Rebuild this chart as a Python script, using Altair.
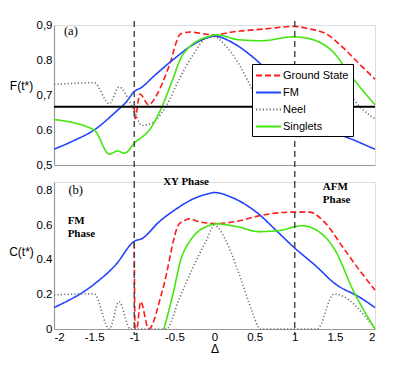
import altair as alt
import pandas as pd

# ---------------- data ----------------
series_names = ["Ground State", "FM", "Neel", "Singlets"]
series_colors = ["#ff1a1a", "#2244ff", "#707070", "#44e610"]
series_dashes = [[6, 3], [1, 0], [1.2, 2.2], [1, 0]]

# panel (a): F(t*)
gs_top_x = [-1.0, -0.99, -0.93, -0.82, -0.72, -0.57, -0.42, -0.3, -0.2, 0.0, 0.22, 0.64, 1.0, 1.18, 1.39, 1.59, 1.8, 2.0]
gs_top_y = [0.665, 0.632, 0.703, 0.672, 0.70, 0.78, 0.875, 0.88, 0.877, 0.872, 0.88, 0.889, 0.896, 0.889, 0.875, 0.838, 0.79, 0.745]

fm_top_x = [-2.0, -1.75, -1.5, -1.23, -1.1, -1.0, -0.92, -0.75, -0.5, -0.25, 0.0, 0.25, 0.5, 0.75, 1.0, 1.25, 1.5, 1.75, 2.0]
fm_top_y = [0.545, 0.57, 0.6, 0.652, 0.68, 0.71, 0.72, 0.755, 0.804, 0.846, 0.868, 0.846, 0.804, 0.75, 0.705, 0.645, 0.595, 0.57, 0.545]

neel_top_x = [-2.0, -1.5, -1.31, -1.19, -1.03, -0.9, -0.78, -0.6, -0.44, -0.28, -0.1, 0.0, 0.14, 0.3, 0.43, 0.55, 0.75, 0.97, 1.05, 1.2, 1.5, 1.7, 1.8, 2.0]
neel_top_y = [0.73, 0.735, 0.675, 0.723, 0.669, 0.613, 0.62, 0.669, 0.745, 0.81, 0.862, 0.866, 0.84, 0.79, 0.734, 0.68, 0.62, 0.585, 0.58, 0.64, 0.735, 0.697, 0.669, 0.632]

sing_top_x = [-2.0, -1.5, -1.31, -1.21, -1.12, -1.0, -0.79, -0.65, -0.52, -0.42, -0.3, -0.2, -0.09, 0.02, 0.3, 0.59, 0.97, 1.18, 1.34, 1.51, 1.64, 2.0]
sing_top_y = [0.63, 0.6, 0.531, 0.54, 0.534, 0.562, 0.607, 0.669, 0.745, 0.805, 0.84, 0.856, 0.866, 0.872, 0.858, 0.855, 0.866, 0.861, 0.847, 0.815, 0.773, 0.672]

# panel (b): C(t*)
gs_bot_x = [-1.0, -0.99, -0.97, -0.92, -0.82, -0.65, -0.44, -0.38, -0.32, -0.19, 0.02, 0.3, 0.55, 0.97, 1.18, 1.39, 1.59, 1.8, 2.0]
gs_bot_y = [0.5, 0.0, 0.0, 0.158, 0.0, 0.22, 0.608, 0.625, 0.637, 0.62, 0.61, 0.625, 0.654, 0.676, 0.676, 0.608, 0.479, 0.344, 0.225]

fm_bot_x = [-2.0, -1.5, -1.23, -1.0, -0.9, -0.69, -0.48, -0.28, -0.07, 0.0, 0.22, 0.55, 0.77, 1.0, 1.26, 1.51, 1.8, 2.0]
fm_bot_y = [0.124, 0.259, 0.372, 0.507, 0.524, 0.62, 0.693, 0.749, 0.783, 0.789, 0.76, 0.665, 0.569, 0.468, 0.366, 0.259, 0.186, 0.124]

neel_bot_x = [-2.0, -1.5, -1.31, -1.19, -1.05, -0.6, -0.44, -0.28, -0.1, 0.0, 0.14, 0.3, 0.47, 0.57, 1.28, 1.49, 2.0]
neel_bot_y = [0.197, 0.203, 0.0, 0.158, 0.0, 0.0, 0.175, 0.344, 0.513, 0.6, 0.513, 0.327, 0.1, 0.0, 0.0, 0.203, 0.0]

sing_bot_x = [-0.63, -0.52, -0.42, -0.3, -0.19, -0.07, 0.02, 0.3, 0.55, 0.8, 1.09, 1.3, 1.51, 1.72, 2.0]
sing_bot_y = [0.0, 0.197, 0.4, 0.513, 0.569, 0.597, 0.608, 0.59, 0.563, 0.569, 0.597, 0.563, 0.45, 0.231, 0.0]

# reference lines
phase_bounds = [-1.0, 1.0]
classical_limit = [2.0 / 3.0]

# axis ticks / labels
x_ticks = [-2, -1.5, -1, -0.5, 0, 0.5, 1, 1.5, 2]
x_tick_labels = ["-2", "-1.5", "-1", "-0.5", "0", "0.5", "1", "1.5", "2"]
top_y_ticks = [0.5, 0.6, 0.7, 0.8, 0.9]
top_y_labels = ["0,5", "0.6", "0,7", "0.8", "0,9"]
bot_y_ticks = [0, 0.2, 0.4, 0.6, 0.8]
bot_y_labels = ["0", "0.2", "0.4", "0.6", "0.8"]

# annotations
top_notes_text = ["(a)"]
top_notes_x = [-1.79]
top_notes_y = [0.883]
bot_notes_text = ["(b)"]
bot_notes_x = [-1.73]
bot_notes_y = [0.806]
phase_text = [["FM", "Phase"], ["XY Phase"], ["AFM", "Phase"]]
phase_x = [-1.83, -0.355, 1.35]
phase_y = [0.625, 0.85, 0.82]
phase_align = ["left", "center", "left"]


def long_df(pairs):
    rows = []
    for name, xs, ys in pairs:
        for i, (a, b) in enumerate(zip(xs, ys)):
            rows.append({"series": name, "x": a, "y": b, "i": i})
    return pd.DataFrame(rows)


top_df = long_df([
    ("Ground State", gs_top_x, gs_top_y),
    ("FM", fm_top_x, fm_top_y),
    ("Neel", neel_top_x, neel_top_y),
    ("Singlets", sing_top_x, sing_top_y),
])
bot_df = long_df([
    ("Ground State", gs_bot_x, gs_bot_y),
    ("FM", fm_bot_x, fm_bot_y),
    ("Neel", neel_bot_x, neel_bot_y),
    ("Singlets", sing_bot_x, sing_bot_y),
])


def label_expr(values, labels):
    parts = []
    for v, l in zip(values, labels):
        parts.append(f"abs(datum.value - ({v})) < 1e-6 ? '{l}'")
    return " : ".join(parts) + " : ''"


W = 321
H_TOP = 140
H_BOT = 147
GAP = 17
AXIS_GRAY = "#9a9a9a"

x_scale = alt.Scale(domain=[-2, 2], nice=False, zero=False)
y_top_scale = alt.Scale(domain=[0.5, 0.9], nice=False, zero=False)
y_bot_scale = alt.Scale(domain=[0, 0.85], nice=False, zero=False)

legend_kw = dict(
    orient="none", legendX=198, legendY=39, title=None,
    fillColor="white", strokeColor="black",
    padding=4, symbolType="M-2,0H2", symbolSize=156, symbolStrokeWidth=1.8,
    symbolOffset=5,
    labelFont="Liberation Sans", labelFontSize=11, labelColor="black",
    labelOffset=7, rowPadding=4,
)
color_enc = alt.Color(
    "series:N",
    scale=alt.Scale(domain=series_names, range=series_colors),
    legend=alt.Legend(**legend_kw),
)
dash_enc = alt.StrokeDash(
    "series:N",
    scale=alt.Scale(domain=series_names, range=series_dashes),
    legend=alt.Legend(**legend_kw),
)

axis_common = dict(
    labelFont="Liberation Sans", labelFontSize=11.5, labelColor="black", labelOverlap=False,
    titleFont="Liberation Sans", titleFontSize=12, titleColor="black", titleFontWeight="normal",
    domainColor=AXIS_GRAY, domainWidth=1.2, grid=False, ticks=False,
)
top_y_axis = alt.Axis(values=top_y_ticks, labelExpr=label_expr(top_y_ticks, top_y_labels),
                      title="F(t*)", titleAngle=0, titleX=-33, titleY=60,
                      titleAlign="center", titleBaseline="middle", **axis_common)
bot_y_axis = alt.Axis(values=bot_y_ticks, labelExpr=label_expr(bot_y_ticks, bot_y_labels),
                      title="C(t*)", titleAngle=0, titleX=-33, titleY=69,
                      titleAlign="center", titleBaseline="middle", **axis_common)
top_x_axis = alt.Axis(title=None, labels=False, **axis_common)
bot_x_axis = alt.Axis(values=x_ticks, labelExpr=label_expr(x_ticks, x_tick_labels),
                      title="Δ", titlePadding=1, labelPadding=2, **axis_common)

# ---------------- top panel ----------------
top_lines = alt.Chart(top_df).mark_line(strokeWidth=1.6, interpolate="monotone").encode(
    x=alt.X("x:Q", scale=x_scale, axis=top_x_axis),
    y=alt.Y("y:Q", scale=y_top_scale, axis=top_y_axis),
    color=color_enc,
    strokeDash=dash_enc,
    order="i:Q",
)

hline = alt.Chart(pd.DataFrame({"y": classical_limit})).mark_rule(color="black", strokeWidth=2).encode(
    y=alt.Y("y:Q", scale=y_top_scale, axis=top_y_axis)
)

vrules_top = alt.Chart(pd.DataFrame({"x": phase_bounds})).mark_rule(
    color="#444444", strokeWidth=1.4, strokeDash=[6, 4]
).encode(x=alt.X("x:Q", scale=x_scale, axis=top_x_axis), y=alt.value(-4), y2=alt.value(H_TOP + GAP))

top_txt = alt.Chart(pd.DataFrame({"t": top_notes_text, "x": top_notes_x, "y": top_notes_y})).mark_text(
    font="Liberation Serif", fontSize=12.5, color="black"
).encode(x=alt.X("x:Q", scale=x_scale, axis=top_x_axis),
         y=alt.Y("y:Q", scale=y_top_scale, axis=top_y_axis), text="t:N")

top = alt.layer(top_lines, hline, vrules_top, top_txt).properties(width=W, height=H_TOP)

# ---------------- bottom panel ----------------
bot_lines = alt.Chart(bot_df).mark_line(strokeWidth=1.6, interpolate="monotone").encode(
    x=alt.X("x:Q", scale=x_scale, axis=bot_x_axis),
    y=alt.Y("y:Q", scale=y_bot_scale, axis=bot_y_axis),
    color=alt.Color("series:N", scale=alt.Scale(domain=series_names, range=series_colors), legend=None),
    strokeDash=alt.StrokeDash("series:N", scale=alt.Scale(domain=series_names, range=series_dashes), legend=None),
    order="i:Q",
)

vrules_bot = alt.Chart(pd.DataFrame({"x": phase_bounds})).mark_rule(
    color="#444444", strokeWidth=1.4, strokeDash=[6, 4]
).encode(x=alt.X("x:Q", scale=x_scale, axis=bot_x_axis), y=alt.value(0), y2=alt.value(H_BOT + 6))

bot_txt = alt.Chart(pd.DataFrame({"t": bot_notes_text, "x": bot_notes_x, "y": bot_notes_y})).mark_text(
    font="Liberation Serif", fontSize=12.5, color="black"
).encode(x=alt.X("x:Q", scale=x_scale, axis=bot_x_axis),
         y=alt.Y("y:Q", scale=y_bot_scale, axis=bot_y_axis), text="t:N")

phase_df = pd.DataFrame({"t": phase_text, "x": phase_x, "y": phase_y, "a": phase_align})
phase_layers = []
for al in ["left", "center"]:
    phase_layers.append(
        alt.Chart(phase_df[phase_df["a"] == al]).mark_text(
            font="Liberation Serif", fontSize=11, fontWeight="bold", color="black",
            align=al, baseline="middle", lineHeight=13
        ).encode(x=alt.X("x:Q", scale=x_scale, axis=bot_x_axis),
                 y=alt.Y("y:Q", scale=y_bot_scale, axis=bot_y_axis), text="t")
    )

bottom = alt.layer(bot_lines, vrules_bot, bot_txt, *phase_layers).properties(width=W, height=H_BOT)

chart = alt.vconcat(top, bottom, spacing=GAP, bounds="flush").resolve_scale(
    color="independent", strokeDash="independent"
).properties(
    padding={"left": 0, "top": 10, "right": 5, "bottom": 0}
).configure_view(
    stroke=None
).configure_axis(
    labelOverlap=False
).configure(background="white")

chart.save("out.html", embed_options={"renderer": "svg", "actions": False})
